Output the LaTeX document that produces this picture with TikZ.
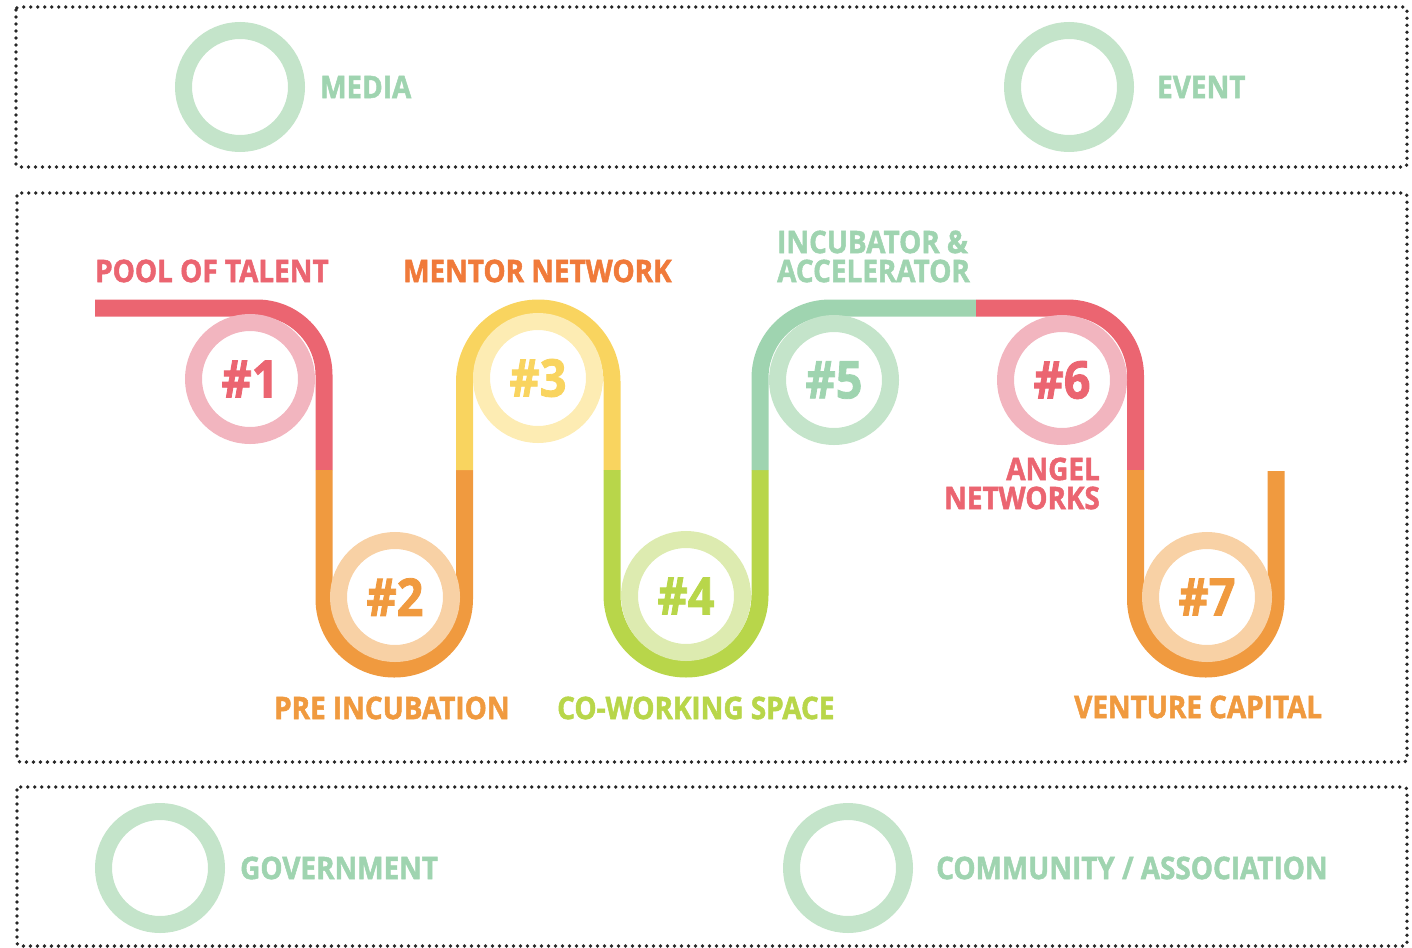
\documentclass[tikz,border=0pt]{standalone}
\usepackage{fontspec}
\setmainfont{Open Sans}[FakeStretch=0.9,BoldFeatures={FakeBold=1.6}]
\definecolor{dotc}{HTML}{262626}
\definecolor{cRed}{HTML}{EB6571}
\definecolor{cPink}{HTML}{F2B5BF}
\definecolor{cOr}{HTML}{F09A3F}
\definecolor{cOrL}{HTML}{F8D1A5}
\definecolor{cYe}{HTML}{F9D45F}
\definecolor{cYeL}{HTML}{FDECB3}
\definecolor{cLi}{HTML}{B8D64A}
\definecolor{cLiL}{HTML}{DDEBB0}
\definecolor{cMi}{HTML}{9FD4B0}
\definecolor{cMiL}{HTML}{C4E4CA}
\definecolor{cMent}{HTML}{F07A3A}
\begin{document}
\begin{tikzpicture}[x=1pt,y=-1pt,
  dotbox/.style={draw=dotc,line width=3.8pt,line cap=round,dash pattern=on 0pt off 7pt,rounded corners=3pt},
  seg/.style={line width=17pt},
  ringnode/.style={circle,line width=17pt,minimum size=113pt,inner sep=0pt,font=\bfseries\fontsize{52}{52}\selectfont},
  lab/.style={inner sep=0pt,font=\bfseries\fontsize{31}{29}\selectfont}]
\useasboundingbox (0,0) rectangle (1412,947);
% boxes
\draw[dotbox] (16,7) rectangle (1407,167);
\draw[dotbox] (17,193) rectangle (1407,762);
\draw[dotbox] (17,787) rectangle (1407,946);
% path segments
\draw[seg,cRed,rounded corners=67pt] (95,308) -- (324,308) -- (324,470);
\draw[seg,cOr,rounded corners=70pt] (324,470) -- (324,669) -- (464.5,669) -- (464.5,470);
\draw[seg,cYe,rounded corners=73.7pt] (464.5,470) -- (464.5,308) -- (612,308) -- (612,470);
\draw[seg,cLi,rounded corners=74pt] (612,470) -- (612,669) -- (760,669) -- (760,470);
\draw[seg,cMi,rounded corners=70pt] (760,470) -- (760,308) -- (976,308);
\draw[seg,cRed,rounded corners=68pt] (976,308) -- (1135.5,308) -- (1135.5,470);
\draw[seg,cOr,rounded corners=70pt] (1135.5,470) -- (1135.5,669) -- (1276,669) -- (1276,471);
% step rings
\node[ringnode,draw=cPink,text=cRed] (s1) at (250,379) {\#1};
\node[ringnode,draw=cOrL,text=cOr] (s2) at (395,597) {\#2};
\node[ringnode,draw=cYeL,text=cYe] (s3) at (538,378) {\#3};
\node[ringnode,draw=cLiL,text=cLi] (s4) at (686,596) {\#4};
\node[ringnode,draw=cMiL,text=cMi] (s5) at (834,380) {\#5};
\node[ringnode,draw=cPink,text=cRed] (s6) at (1062,380) {\#6};
\node[ringnode,draw=cOrL,text=cOr] (s7) at (1207,597) {\#7};
% step labels
\node[lab,text=cRed,anchor=west] (l1) at (95,271) {POOL OF TALENT};
\node[lab,text=cMent,anchor=west] (l3) at (403,271) {MENTOR NETWORK};
\node[lab,text=cMi,anchor=west,align=left] (l5) at (777,256.5) {INCUBATOR \&\\ACCELERATOR};
\node[lab,text=cRed,anchor=east,align=right] (l6) at (1100,483.5) {ANGEL\\NETWORKS};
\node[lab,text=cOr,anchor=west] (l2) at (274,708) {PRE INCUBATION};
\node[lab,text=cLi,anchor=west] (l4) at (557,708) {CO-WORKING SPACE};
\node[lab,text=cOr,anchor=west] (l7) at (1074,707) {VENTURE CAPITAL};
% outer actors
\node[ringnode,draw=cMiL] (media) at (240,87) {};
\node[lab,text=cMi,anchor=west] (medialab) at (320,87) {MEDIA};
\node[ringnode,draw=cMiL] (event) at (1069,87) {};
\node[lab,text=cMi,anchor=west] (eventlab) at (1157,87) {EVENT};
\node[ringnode,draw=cMiL] (gov) at (160,868) {};
\node[lab,text=cMi,anchor=west] (govlab) at (240,868) {GOVERNMENT};
\node[ringnode,draw=cMiL] (comm) at (848,868) {};
\node[lab,text=cMi,anchor=west] (commlab) at (936,868) {COMMUNITY / ASSOCIATION};
\end{tikzpicture}
\end{document}
